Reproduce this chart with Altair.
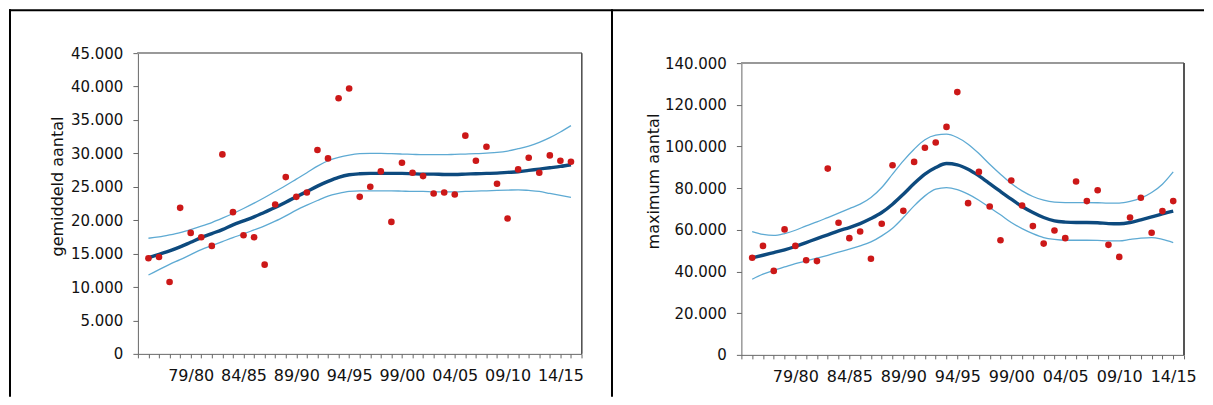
import altair as alt
import pandas as pd

# ---------------- data ----------------
seasons = ["75/76", "76/77", "77/78", "78/79", "79/80", "80/81", "81/82", "82/83", "83/84", "84/85",
           "85/86", "86/87", "87/88", "88/89", "89/90", "90/91", "91/92", "92/93", "93/94", "94/95",
           "95/96", "96/97", "97/98", "98/99", "99/00", "00/01", "01/02", "02/03", "03/04", "04/05",
           "05/06", "06/07", "07/08", "08/09", "09/10", "10/11", "11/12", "12/13", "13/14", "14/15",
           "15/16"]
label_seasons = ["79/80", "84/85", "89/90", "94/95", "99/00", "04/05", "09/10", "14/15"]

gem_obs = [14300, 14500, 10750, 21850, 18100, 17450, 16150, 29850, 21200, 17750,
           17450, 13350, 22350, 26450, 23500, 24150, 30500, 29250, 38250, 39700,
           23500, 25000, 27300, 19750, 28600, 27100, 26600, 24000, 24150, 23850,
           32650, 28900, 31000, 25450, 20250, 27600, 29350, 27100, 29700, 28900, 28750]
gem_trend = [14400, 14900, 15400, 16000, 16700, 17400, 18000, 18600, 19300, 19900,
             20500, 21200, 21900, 22700, 23500, 24300, 25100, 25800, 26400, 26800,
             26950, 27000, 27000, 27000, 27000, 26950, 26900, 26900, 26850, 26850,
             26900, 26950, 27000, 27050, 27150, 27250, 27450, 27650, 27850, 28050, 28300]
gem_upper = [17300, 17500, 17800, 18150, 18600, 19100, 19650, 20300, 21000, 21750,
             22550, 23400, 24300, 25200, 26150, 27100, 28100, 28900, 29400, 29750,
             29950, 30000, 30000, 29950, 29900, 29850, 29800, 29800, 29800, 29850,
             29900, 29950, 30050, 30150, 30350, 30700, 31100, 31650, 32350, 33200, 34150]
gem_lower = [11800, 12600, 13400, 14100, 14850, 15600, 16200, 16800, 17400, 17950,
             18550, 19150, 19850, 20650, 21500, 22250, 22950, 23600, 24000, 24300,
             24400, 24400, 24400, 24400, 24350, 24300, 24300, 24250, 24250, 24250,
             24300, 24350, 24400, 24450, 24500, 24550, 24450, 24300, 24000, 23700, 23400]

max_obs = [46600, 52300, 40300, 60200, 52300, 45400, 45000, 89400, 63400, 56000,
           59200, 46100, 62900, 91000, 69100, 92600, 99400, 101900, 109400, 126100,
           72800, 87800, 71200, 55000, 83700, 71700, 61800, 53400, 59700, 56000,
           83200, 73800, 79000, 52800, 47000, 65900, 75400, 58600, 69000, 73800]
max_trend = [46600, 47800, 49100, 50400, 52000, 53900, 55800, 57600, 59500, 61100,
             63000, 65400, 68300, 72300, 77100, 82200, 86700, 89900, 91800, 91200,
             89100, 85900, 82200, 78400, 74700, 71200, 68300, 65900, 64300, 63700,
             63500, 63500, 63400, 63000, 62900, 63500, 64800, 66200, 67700, 69000]
max_upper = [59200, 57800, 57300, 58200, 59800, 61900, 63800, 65900, 68000, 70200,
             72300, 75500, 80300, 86700, 93100, 98700, 103200, 105400, 105900, 104300,
             101100, 96600, 91500, 86700, 82200, 78700, 76000, 74200, 73300, 73100,
             73100, 73100, 73000, 72800, 72800, 73600, 75200, 77900, 81900, 87800]
max_lower = [36300, 38700, 40600, 42200, 43800, 45100, 46400, 47800, 49300, 50700,
             52300, 54200, 57100, 60800, 65900, 71500, 76300, 79500, 80300, 79300,
             77100, 74200, 70700, 67200, 63500, 60600, 58200, 56300, 55400, 55000,
             55000, 55000, 54900, 54700, 54700, 55400, 56000, 56300, 55400, 53900]

# ---------------- styling ----------------
FONT = "DejaVu Sans"
RED = "#cc1818"
NAVY = "#0d4a7e"
LIGHT = "#5eaad3"
AXIS_C = "#666666"
TXT = "#111111"

label_expr = " : ".join(
    f"datum.value == {seasons.index(s) + 1} ? '{s}'" for s in label_seasons
) + " : ''"
y_label_expr = "replace(format(datum.value, ','), ',', '.')"


def panel(obs, trend, upper, lower, ymax, ystep, ytitle, height, yrange,
          title_x, title_y, width, extra=None):
    n = len(obs)
    npos = n + 1
    df = pd.DataFrame({
        "k": list(range(1, n + 1)),
        "season": seasons[:n],
        "obs": obs, "trend": trend, "upper": upper, "lower": lower,
    })
    xscale = alt.Scale(domain=[0, npos], nice=False, zero=False)
    if yrange:
        yscale = alt.Scale(domain=[0, ymax], nice=False, range=yrange)
    else:
        yscale = alt.Scale(domain=[0, ymax], nice=False)
    xaxis = alt.Axis(values=list(range(0, npos + 1)), labelExpr=label_expr, title=None,
                     grid=False, tickSize=4, labelPadding=10, labelOverlap=False,
                     labelFlush=False, labelAngle=0, labelFontSize=16)
    yaxis = alt.Axis(values=list(range(0, ymax + 1, ystep)), labelExpr=y_label_expr,
                     title=ytitle, grid=False, tickSize=5, labelPadding=10,
                     titleAngle=-90, titleX=title_x, titleY=title_y,
                     titleAlign="center", titleBaseline="middle",
                     titleFontWeight="normal", labelOverlap=False,
                     labelFontSize=15, titleFontSize=16)

    def X(field):
        return alt.X(f"{field}:Q", scale=xscale, axis=xaxis)

    def Y(field):
        return alt.Y(f"{field}:Q", scale=yscale, axis=yaxis, title=ytitle)

    base = alt.Chart(df)
    lo = base.mark_line(color=LIGHT, strokeWidth=1.3, interpolate="monotone").encode(
        x=X("k"), y=Y("lower"))
    up = base.mark_line(color=LIGHT, strokeWidth=1.3, interpolate="monotone").encode(
        x=X("k"), y=Y("upper"))
    tr = base.mark_line(color=NAVY, strokeWidth=3.4, interpolate="monotone").encode(
        x=X("k"), y=Y("trend"))
    pts = base.mark_point(filled=True, shape="circle", size=44, color=RED, opacity=1).encode(
        x=X("k"), y=Y("obs"))
    frame_top = alt.Chart(df).mark_rule(color="#9a9a9a", strokeWidth=1).encode(
        x=alt.X(datum=0, scale=xscale, axis=xaxis),
        x2=alt.X2(datum=npos),
        y=alt.Y(datum=ymax, scale=yscale, axis=yaxis, title=ytitle))
    frame_right = alt.Chart(df).mark_rule(color="#555555", strokeWidth=1).encode(
        x=alt.X(datum=npos, scale=xscale, axis=xaxis),
        y=alt.Y(datum=0, scale=yscale, axis=yaxis, title=ytitle),
        y2=alt.Y2(datum=ymax))
    layers = [lo, up, tr, pts, frame_top, frame_right]
    if extra:
        layers = layers + extra
    return alt.layer(*layers).properties(width=width, height=height)


# table borders (drawn in the left panel, pixel offsets from its plot area)
border_df = pd.DataFrame({"b": [0]})
b_left = alt.Chart(border_df).mark_rule(color="black", strokeWidth=2).encode(
    x=alt.value(-128), y=alt.value(-44), y2=alt.value(344))
b_top = alt.Chart(border_df).mark_rule(color="black", strokeWidth=2).encode(
    x=alt.value(-129), x2=alt.value(1067), y=alt.value(-43))
b_mid = alt.Chart(border_df).mark_rule(color="black", strokeWidth=2).encode(
    x=alt.value(474.5), y=alt.value(-44), y2=alt.value(344))

left = panel(gem_obs, gem_trend, gem_upper, gem_lower, 45000, 5000, "gemiddeld aantal",
             301, None, -80, 133, 444, extra=[b_left, b_top, b_mid])
right = panel(max_obs, max_trend, max_upper, max_lower, 140000, 20000, "maximum aantal",
              302, [302, 10], -88, 128, 443)

chart = alt.hconcat(left, right, spacing=160, bounds="flush").properties(
    padding=0
).configure_view(strokeWidth=0).configure_axis(
    labelFont=FONT, titleFont=FONT,
    labelColor=TXT, titleColor=TXT,
    domainColor=AXIS_C, tickColor=AXIS_C, domainWidth=1, tickWidth=1
)

chart.save("out.html", embed_options={"renderer": "svg", "actions": False})
